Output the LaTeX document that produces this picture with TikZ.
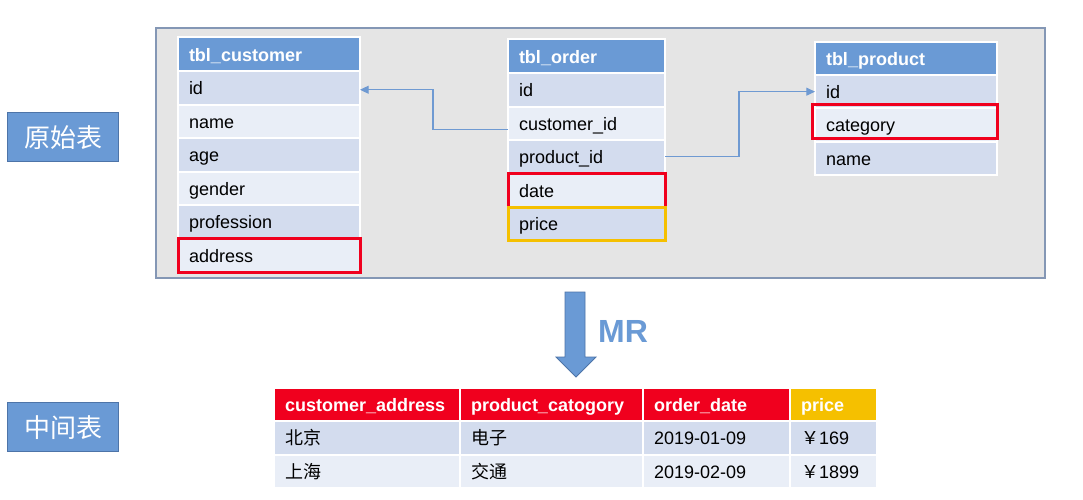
\documentclass[tikz,border=0pt]{standalone}
\usepackage{fontspec}
\setmainfont{Liberation Sans}
\newfontfamily\cjk{Noto Sans CJK SC}
\usetikzlibrary{arrows.meta,calc}
\definecolor{hdr}{HTML}{6A9AD5}
\definecolor{rowdark}{HTML}{D3DCEE}
\definecolor{rowlight}{HTML}{E9EEF7}
\definecolor{bggray}{HTML}{E5E5E5}
\definecolor{bgborder}{HTML}{8497B5}
\definecolor{hired}{HTML}{F0001E}
\definecolor{hiyellow}{HTML}{F5C000}
\definecolor{linkc}{HTML}{6F9AD2}
\definecolor{lblborder}{HTML}{4D74A8}
\tikzset{
  cellbase/.style={anchor=north west, draw=white, line width=1.5pt, outer sep=0pt,
    inner xsep=8.25pt, inner ysep=0pt, align=left, text height=12.5pt, text depth=2pt,
    font=\fontsize{13.5}{16}\selectfont},
  wide/.style={text width=120pt},
  narrow/.style={text width=101.25pt},
  hdrcell/.style={cellbase, fill=hdr, text=white, font=\fontsize{13.5}{16}\selectfont\bfseries, minimum height=25.5pt},
  dcell/.style={cellbase, fill=rowdark, minimum height=25.125pt},
  lcell/.style={cellbase, fill=rowlight, minimum height=25.125pt},
  pdcell/.style={cellbase, fill=rowdark, minimum height=25pt},
  plcell/.style={cellbase, fill=rowlight, minimum height=25pt},
  redhdr/.style={cellbase, fill=hired, text=white, font=\fontsize{13.5}{16}\selectfont\bfseries, minimum height=24.75pt},
  yelhdr/.style={cellbase, fill=hiyellow, text=white, font=\fontsize{13.5}{16}\selectfont\bfseries, minimum height=24.75pt},
  hilite/.style={draw=#1, line width=2.25pt},
  link/.style={draw=linkc, line width=0.8pt, -{Triangle[length=6.5pt,width=6pt]}},
  lbl/.style={anchor=north west, fill=hdr, draw=lblborder, line width=1pt, text=white,
    minimum width=83.25pt, minimum height=36.75pt, inner sep=0pt,
    font=\cjk\fontsize{19.5}{22}\selectfont},
}
\begin{document}
\begin{tikzpicture}[x=0.75pt,y=-0.75pt]
\useasboundingbox (0,0) rectangle (1083,500);
\fill[white] (0,0) rectangle (1083,500);
% gray panel
\draw[fill=bggray, draw=bgborder, line width=1pt] (156,28) rectangle (1045,278);

% side labels
\node[lbl] (lorig) at (7,112) {原始表};
\node[lbl] (lmid) at (7,402) {中间表};

% tbl_customer
\node[hdrcell, wide] (chdr) at (178,37) {tbl\_customer};
\node[dcell, wide] (cid) at (178,71) {id};
\node[lcell, wide] (cname) at (178,104.5) {name};
\node[dcell, wide] (cage) at (178,138) {age};
\node[lcell, wide] (cgender) at (178,171.5) {gender};
\node[dcell, wide] (cprof) at (178,205) {profession};
\node[lcell, wide] (caddr) at (178,238.5) {address};
\draw[hilite=hired] (caddr.north west) rectangle (caddr.south east);

% tbl_order
\node[hdrcell, narrow] (ohdr) at (508,39) {tbl\_order};
\node[dcell, narrow] (oid) at (508,73) {id};
\node[lcell, narrow] (ocid) at (508,106.5) {customer\_id};
\node[dcell, narrow] (opid) at (508,140) {product\_id};
\node[lcell, narrow] (odate) at (508,173.5) {date};
\node[dcell, narrow] (oprice) at (508,207) {price};
\draw[hilite=hired] (odate.north west) rectangle (odate.south east);
\draw[hilite=hiyellow] (oprice.north west) rectangle (oprice.south east);

% tbl_product
\node[hdrcell, wide, minimum height=24.75pt] (phdr) at (815,42) {tbl\_product};
\node[pdcell, wide] (pid) at (815,75) {id};
\node[plcell, wide] (pcat) at (815,108.33) {category};
\node[pdcell, wide] (pname) at (815,141.67) {name};
\draw[hilite=hired] ($(pcat.north west)+(-3,-4)$) rectangle ($(pcat.south east)+(0,-3)$);

% connectors
\draw[link] ($(ocid.west)+(0,6)$) -- ++(-75,0) |- ($(cid.east)+(0,2)$);
\draw[link] (opid.east) -- ++(74,0) |- (pid.west);

% MR arrow
\draw[fill=hdr, draw=lblborder, line width=0.6pt]
  (565,292) -- (585,292) -- (585,357) -- (596,357) -- (576,377) -- (556,357) -- (565,357) -- cycle;
\node[text=hdr, font=\fontsize{24}{28}\selectfont\bfseries, inner sep=0pt] (mr) at (623,331) {MR};

% result table
\node[redhdr, text width=123pt] (h1) at (274,388) {customer\_address};
\node[redhdr, text width=120.75pt] (h2) at (460,388) {product\_catogory};
\node[redhdr, text width=93.75pt] (h3) at (643,388) {order\_date};
\node[yelhdr, text width=48.75pt] (h4) at (790,388) {price};

\node[dcell, text width=123pt] (r11) at (274,421) {\cjk 北京};
\node[dcell, text width=120.75pt] (r12) at (460,421) {\cjk 电子};
\node[dcell, text width=93.75pt] (r13) at (643,421) {2019-01-09};
\node[dcell, text width=48.75pt] (r14) at (790,421) {{\cjk ￥}169};

\node[lcell, text width=123pt] (r21) at (274,454.5) {\cjk 上海};
\node[lcell, text width=120.75pt] (r22) at (460,454.5) {\cjk 交通};
\node[lcell, text width=93.75pt] (r23) at (643,454.5) {2019-02-09};
\node[lcell, text width=48.75pt] (r24) at (790,454.5) {{\cjk ￥}1899};
\end{tikzpicture}
\end{document}
